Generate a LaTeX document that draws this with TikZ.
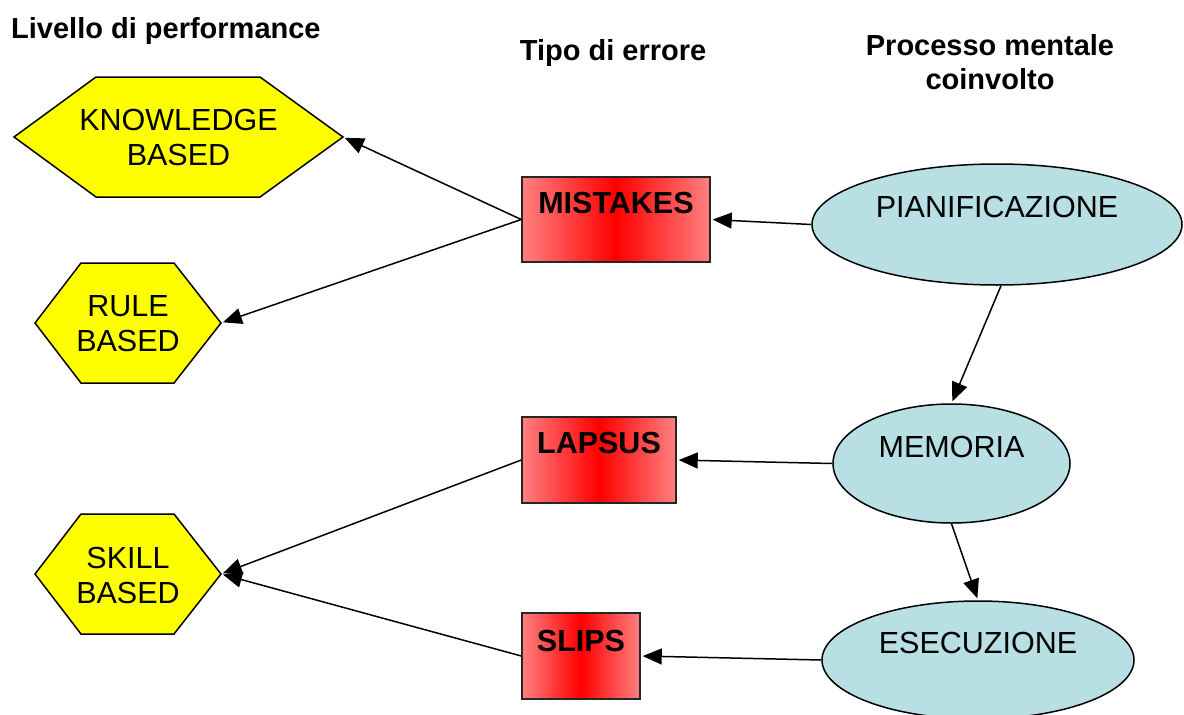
\documentclass[tikz,border=0pt]{standalone}
\usepackage{fontspec}
\setmainfont{Liberation Sans}
\usetikzlibrary{arrows.meta,shapes.geometric}
\definecolor{hexyellow}{RGB}{255,255,0}
\definecolor{boxpink}{RGB}{255,128,128}
\definecolor{procblue}{RGB}{184,224,228}
\tikzset{
  hexshape/.style={draw=black, fill=hexyellow, line width=1.5pt, line join=miter},
  hextext/.style={align=center, font=\fontsize{30.5}{35}\selectfont, inner sep=0pt},
  errbox/.style={rectangle, draw=black!85, line width=1.5pt, left color=boxpink,
    right color=boxpink, middle color=red, inner sep=0pt},
  errtext/.style={font=\fontsize{30.5}{35}\selectfont\bfseries, inner sep=0pt},
  procell/.style={ellipse, draw=black, fill=procblue, line width=1.5pt, inner sep=0pt},
  proctext/.style={font=\fontsize{30.5}{35}\selectfont, inner sep=0pt},
  heading/.style={font=\fontsize{29}{34}\selectfont\bfseries, inner sep=0pt},
  link/.style={-{Triangle[length=19pt,width=16pt]}, line width=1.5pt, shorten >=2pt},
}
\begin{document}
\begin{tikzpicture}[x=1pt, y=-1pt]
\useasboundingbox (0,0) rectangle (1184,715);

% column headings
\node[heading, anchor=base west] (hLev) at (11,38) {Livello di performance};
\node[heading, anchor=base] (hTipo) at (613,60) {Tipo di errore};
\node[heading, align=center] (hProc) at (990,62) {Processo mentale\\coinvolto};

% performance levels (hexagons)
\draw[hexshape] (14,137) -- (96,77) -- (260,77) -- (343,137) -- (260,197) -- (96,197) -- cycle;
\coordinate (kbE) at (343,137);
\node[hextext] (kb) at (178.5,137.5) {KNOWLEDGE\\BASED};

\draw[hexshape] (35,323) -- (81,263) -- (174,263) -- (221,323) -- (174,383) -- (81,383) -- cycle;
\coordinate (rbE) at (221,323);
\node[hextext] (rb) at (128,324) {RULE\\BASED};

\draw[hexshape] (35,574) -- (81,514) -- (174,514) -- (221,574) -- (174,634) -- (81,634) -- cycle;
\coordinate (sbE) at (221,574);
\node[hextext] (sb) at (128,575) {SKILL\\BASED};

% error types (shaded boxes)
\node[errbox, minimum width=188pt, minimum height=85pt] (mis) at (616,219.5) {};
\node[errtext] (misT) at ([yshift=17pt]mis.center) {MISTAKES};
\node[errbox, minimum width=154pt, minimum height=86pt] (lap) at (599,460) {};
\node[errtext] (lapT) at ([yshift=17.5pt]lap.center) {LAPSUS};
\node[errbox, minimum width=118pt, minimum height=86pt] (sli) at (581,656) {};
\node[errtext] (sliT) at ([yshift=15.5pt]sli.center) {SLIPS};

% mental processes (ellipses)
\node[procell, minimum width=370pt, minimum height=121pt] (pia) at (997,224.5) {};
\node[proctext] (piaT) at ([yshift=17.5pt]pia.center) {PIANIFICAZIONE};
\node[procell, minimum width=237pt, minimum height=119pt] (mem) at (951.5,463.5) {};
\node[proctext] (memT) at ([yshift=16.5pt]mem.center) {MEMORIA};
\node[procell, minimum width=312pt, minimum height=118pt] (ese) at (978,660) {};
\node[proctext] (eseT) at ([yshift=17pt]ese.center) {ESECUZIONE};

% connectors
\draw[link] (pia.west) -- (mis.east);
\draw[link] (mis.west) -- (kbE);
\draw[link] (mis.west) -- (rbE);
\draw[link] (mem.west) -- (lap.east);
\draw[link] (lap.west) -- (sbE);
\draw[link] (sli.west) -- (sbE);
\draw[link] (ese.west) -- (sli.east);
\draw[link] ([xshift=4pt]pia.south) -- (mem.north);
\draw[link] (mem.south) -- (ese.north);
\end{tikzpicture}
\end{document}
